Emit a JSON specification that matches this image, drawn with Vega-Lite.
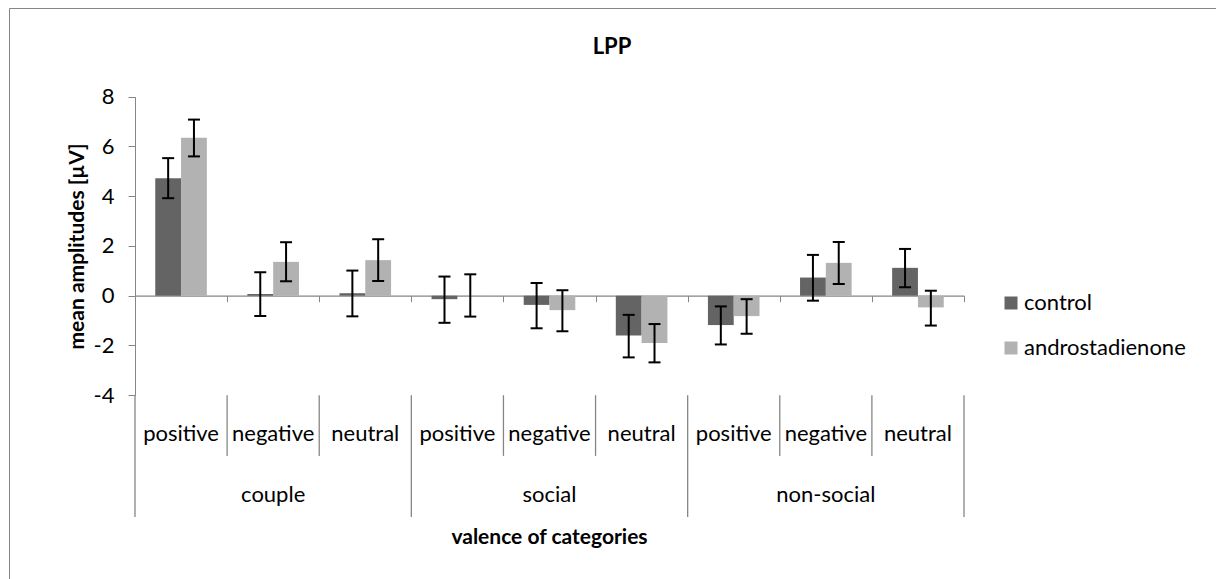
{
  "$schema": "https://vega.github.io/schema/vega-lite/v6.json",
  "width": 1210,
  "height": 574,
  "autosize": {"type": "none"},
  "padding": {"left": 9, "top": 8, "right": -3, "bottom": -3},
  "background": "white",
  "config": {
    "font": "Lato",
    "view": {"stroke": "#868686", "strokeWidth": 1}
  },
  "datasets": {
    "lpp": [
      {"cat": "couple-positive", "condition": "control", "mean": 4.72, "lo": 3.92, "hi": 5.53},
      {"cat": "couple-positive", "condition": "androstadienone", "mean": 6.35, "lo": 5.6, "hi": 7.08},
      {"cat": "couple-negative", "condition": "control", "mean": 0.07, "lo": -0.82, "hi": 0.94},
      {"cat": "couple-negative", "condition": "androstadienone", "mean": 1.36, "lo": 0.58, "hi": 2.15},
      {"cat": "couple-neutral", "condition": "control", "mean": 0.1, "lo": -0.83, "hi": 1.01},
      {"cat": "couple-neutral", "condition": "androstadienone", "mean": 1.43, "lo": 0.59, "hi": 2.27},
      {"cat": "social-positive", "condition": "control", "mean": -0.14, "lo": -1.09, "hi": 0.77},
      {"cat": "social-positive", "condition": "androstadienone", "mean": 0.01, "lo": -0.84, "hi": 0.86},
      {"cat": "social-negative", "condition": "control", "mean": -0.37, "lo": -1.31, "hi": 0.51},
      {"cat": "social-negative", "condition": "androstadienone", "mean": -0.58, "lo": -1.43, "hi": 0.22},
      {"cat": "social-neutral", "condition": "control", "mean": -1.6, "lo": -2.48, "hi": -0.77},
      {"cat": "social-neutral", "condition": "androstadienone", "mean": -1.9, "lo": -2.68, "hi": -1.14},
      {"cat": "non-social-positive", "condition": "control", "mean": -1.18, "lo": -1.96, "hi": -0.43},
      {"cat": "non-social-positive", "condition": "androstadienone", "mean": -0.82, "lo": -1.53, "hi": -0.14},
      {"cat": "non-social-negative", "condition": "control", "mean": 0.73, "lo": -0.2, "hi": 1.64},
      {"cat": "non-social-negative", "condition": "androstadienone", "mean": 1.32, "lo": 0.47, "hi": 2.16},
      {"cat": "non-social-neutral", "condition": "control", "mean": 1.12, "lo": 0.34, "hi": 1.88},
      {"cat": "non-social-neutral", "condition": "androstadienone", "mean": -0.47, "lo": -1.2, "hi": 0.2}
    ],
    "cats": [
      {"cat": "couple-positive", "group": "couple", "valence": "positive"},
      {"cat": "couple-negative", "group": "couple", "valence": "negative"},
      {"cat": "couple-neutral", "group": "couple", "valence": "neutral"},
      {"cat": "social-positive", "group": "social", "valence": "positive"},
      {"cat": "social-negative", "group": "social", "valence": "negative"},
      {"cat": "social-neutral", "group": "social", "valence": "neutral"},
      {"cat": "non-social-positive", "group": "non-social", "valence": "positive"},
      {"cat": "non-social-negative", "group": "non-social", "valence": "negative"},
      {"cat": "non-social-neutral", "group": "non-social", "valence": "neutral"}
    ]
  },
  "layer": [
    {
      "data": {"name": "lpp"},
      "mark": {"type": "bar"},
      "encoding": {
        "x": {
          "field": "cat",
          "type": "nominal",
          "sort": null,
          "scale": {
            "domain": ["couple-positive", "couple-negative", "couple-neutral", "social-positive", "social-negative", "social-neutral", "non-social-positive", "non-social-negative", "non-social-neutral"],
            "range": [126, 955],
            "paddingInner": 0,
            "paddingOuter": 0
          },
          "axis": {
            "orient": "bottom",
            "offset": -286.3,
            "labels": false,
            "title": null,
            "tickBand": "extent",
            "tickSize": 6,
            "tickColor": "#868686",
            "domainColor": "#868686",
            "domainWidth": 1.3,
            "grid": false
          }
        },
        "xOffset": {
          "field": "condition",
          "type": "nominal",
          "sort": null,
          "scale": {"domain": ["control", "androstadienone"], "paddingInner": 0, "paddingOuter": 0.785}
        },
        "y": {
          "field": "mean",
          "type": "quantitative",
          "scale": {"domain": [-4, 8], "range": [387.2, 88.7], "nice": false, "zero": false},
          "axis": {
            "offset": -126,
            "values": [-4, -2, 0, 2, 4, 6, 8],
            "labelExpr": "'' + datum.value",
            "tickSize": 7,
            "tickColor": "#868686",
            "domainColor": "#868686",
            "labelPadding": 14,
            "labelFontSize": 22,
            "labelColor": "black",
            "grid": false,
            "title": "mean amplitudes [µV]",
            "titleFontSize": 21,
            "titleFontWeight": "bold",
            "titleColor": "black",
            "titlePadding": 6
          }
        },
        "color": {
          "field": "condition",
          "type": "nominal",
          "sort": null,
          "scale": {"domain": ["control", "androstadienone"], "range": ["#646464", "#b2b2b2"]},
          "legend": {
            "orient": "none",
            "legendX": 991,
            "legendY": 284,
            "title": null,
            "padding": 0,
            "symbolType": "square",
            "symbolSize": 169,
            "symbolStrokeWidth": 0,
            "symbolOpacity": 1,
            "labelFontSize": 22,
            "labelColor": "black",
            "labelOffset": 2,
            "labelLimit": 400,
            "rowPadding": 23
          }
        }
      }
    },
    {
      "data": {"name": "lpp"},
      "mark": {"type": "rule", "color": "black", "strokeWidth": 2},
      "encoding": {
        "x": {"field": "cat", "type": "nominal"},
        "xOffset": {"field": "condition", "type": "nominal"},
        "y": {"field": "lo", "type": "quantitative"},
        "y2": {"field": "hi"}
      }
    },
    {
      "data": {"name": "lpp"},
      "mark": {"type": "tick", "color": "black", "size": 12, "thickness": 2, "opacity": 1},
      "encoding": {
        "x": {"field": "cat", "type": "nominal"},
        "xOffset": {"field": "condition", "type": "nominal"},
        "y": {"field": "lo", "type": "quantitative"}
      }
    },
    {
      "data": {"name": "lpp"},
      "mark": {"type": "tick", "color": "black", "size": 12, "thickness": 2, "opacity": 1},
      "encoding": {
        "x": {"field": "cat", "type": "nominal"},
        "xOffset": {"field": "condition", "type": "nominal"},
        "y": {"field": "hi", "type": "quantitative"}
      }
    },
    {
      "data": {"name": "cats"},
      "mark": {"type": "text", "fontSize": 22, "color": "black", "baseline": "alphabetic", "align": "center"},
      "encoding": {
        "x": {"field": "cat", "type": "nominal"},
        "y": {"datum": -5.84},
        "text": {"field": "valence"}
      }
    },
    {
      "data": {"name": "cats"},
      "transform": [{"filter": "datum.valence === 'negative'"}],
      "mark": {"type": "text", "fontSize": 22, "color": "black", "baseline": "alphabetic", "align": "center"},
      "encoding": {
        "x": {"field": "cat", "type": "nominal"},
        "y": {"datum": -8.28},
        "text": {"field": "group"}
      }
    },
    {
      "data": {"name": "cats"},
      "transform": [{"filter": "datum.valence !== 'positive'"}],
      "mark": {"type": "rule", "color": "#868686", "strokeWidth": 1.3},
      "encoding": {
        "x": {"field": "cat", "type": "nominal", "bandPosition": 0},
        "y": {"datum": -4},
        "y2": {"datum": -6.44}
      }
    },
    {
      "data": {"name": "cats"},
      "transform": [{"filter": "datum.valence === 'positive'"}],
      "mark": {"type": "rule", "color": "#868686", "strokeWidth": 1.3},
      "encoding": {
        "x": {"field": "cat", "type": "nominal", "bandPosition": 0},
        "y": {"datum": -4},
        "y2": {"datum": -8.9}
      }
    },
    {
      "data": {"name": "cats"},
      "transform": [{"filter": "datum.cat === 'non-social-neutral'"}],
      "mark": {"type": "rule", "color": "#868686", "strokeWidth": 1.3},
      "encoding": {
        "x": {"field": "cat", "type": "nominal", "bandPosition": 1},
        "y": {"datum": -4},
        "y2": {"datum": -8.9}
      }
    },
    {
      "data": {"values": [{"label": "valence of categories"}]},
      "mark": {"type": "text", "fontSize": 21, "fontWeight": "bold", "color": "black", "baseline": "alphabetic", "align": "center"},
      "encoding": {
        "x": {"datum": "social-negative"},
        "y": {"datum": -9.98},
        "text": {"field": "label"}
      }
    },
    {
      "data": {"values": [{"label": "LPP"}]},
      "mark": {"type": "text", "fontSize": 22, "fontWeight": "bold", "color": "black", "baseline": "alphabetic", "align": "center", "dx": -2},
      "encoding": {
        "y": {"datum": 9.72},
        "text": {"field": "label"}
      }
    }
  ]
}
